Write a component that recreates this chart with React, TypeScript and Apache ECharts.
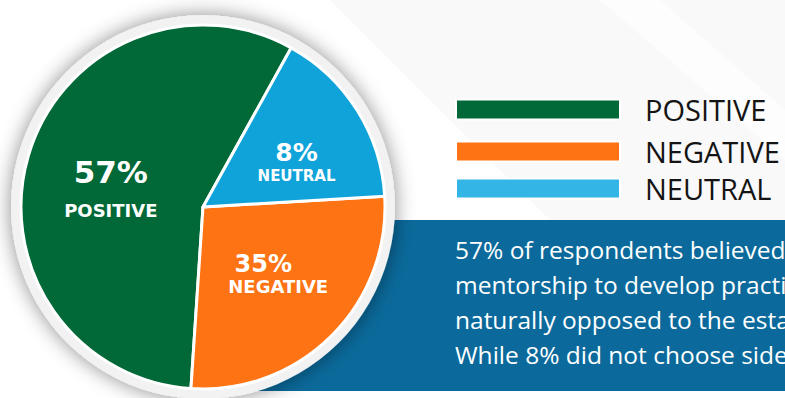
import React, { useEffect, useRef } from "react";
import * as echarts from "echarts";

const categories = ["POSITIVE", "NEGATIVE", "NEUTRAL"];
const sliceValues = [57, 27, 16];
const sliceLabels = ["57%", "35%", "8%"];
const pieColors = ["#016837", "#fe7313", "#0fa3d9"];
const legendColors = ["#016837", "#fe7313", "#33b5e5"];
const paragraphLines = [
  "57% of respondents believed",
  "mentorship to develop practical",
  "naturally opposed to the estab",
  "While 8% did not choose sides.",
];

export default function App() {
  const ref = useRef<HTMLDivElement>(null);
  useEffect(() => {
    if (!ref.current) return;
    const chart = echarts.init(ref.current, null, { renderer: "svg" });
    const center = [203, 207];
    const legendTops = [95, 137, 174];
    const labelShift = [
      { dx: -2, dy: 9 },
      { dx: 9, dy: -1 },
      { dx: 14, dy: 5 },
    ];
    const option: any = {
      animation: false,
      backgroundColor: "#ffffff",
      legend: categories.map((c, i) => ({
        show: true,
        left: 455,
        top: legendTops[i],
        padding: 0,
        icon: "rect",
        itemWidth: 164,
        itemHeight: 20,
        selectedMode: false,
        data: [{ name: c, itemStyle: { color: legendColors[i] } }],
        textStyle: {
          fontFamily: "Open Sans",
          fontSize: 29,
          lineHeight: 20,
          color: "#141414",
          padding: [0, 0, 0, 20],
        },
      })),
      graphic: [
        {
          type: "polygon",
          z: -10,
          shape: { points: [[330, 0], [785, 0], [785, 230], [560, 230]] },
          style: { fill: "#f9f9f9" },
          silent: true,
        },
        {
          type: "polygon",
          z: -9,
          shape: { points: [[600, 0], [660, 0], [785, 110], [785, 160]] },
          style: { fill: "#fdfdfd" },
          silent: true,
        },
        {
          type: "rect",
          z: -5,
          shape: { x: 250, y: 220, width: 535, height: 171 },
          style: { fill: "#0b6a9b" },
          silent: true,
        },
        {
          type: "text",
          z: 10,
          x: 455,
          y: 232,
          style: {
            text: paragraphLines.join("\n"),
            fill: "#ffffff",
            fontFamily: "Open Sans",
            fontSize: 24.5,
            lineHeight: 35,
            verticalAlign: "top",
            align: "left",
          },
          silent: true,
        },
      ],
      series: [
        {
          type: "pie",
          name: "ring",
          center,
          radius: [0, 192],
          silent: true,
          z: 1,
          label: { show: false },
          labelLine: { show: false },
          itemStyle: {
            color: "#f2f2f2",
            shadowBlur: 20,
            shadowColor: "rgba(0,0,0,0.45)",
          },
          data: [{ value: 1, name: "ring" }],
        },
        {
          type: "pie",
          name: "responses",
          center,
          radius: [0, 182],
          clockwise: false,
          startAngle: 61,
          z: 3,
          silent: true,
          itemStyle: { borderColor: "#ffffff", borderWidth: 3 },
          data: categories.map((c, i) => ({
            name: c,
            value: sliceValues[i],
            itemStyle: { color: pieColors[i] },
          })),
          labelLine: { show: false },
          label: {
            show: true,
            position: "inside",
            color: "#ffffff",
            fontFamily: "DejaVu Sans",
            fontWeight: "bold",
            align: "center",
            formatter: (p: any) =>
              `{v${p.dataIndex}|${sliceLabels[p.dataIndex]}}\n{n${p.dataIndex}|${p.name}}`,
            rich: {
              v0: { fontSize: 31, lineHeight: 42, fontWeight: "bold", color: "#fff", fontFamily: "DejaVu Sans" },
              n0: { fontSize: 18, lineHeight: 34, fontWeight: "bold", color: "#fff", fontFamily: "DejaVu Sans" },
              v1: { fontSize: 24, lineHeight: 27, fontWeight: "bold", color: "#fff", fontFamily: "DejaVu Sans", padding: [0, 30, 0, 0] },
              n1: { fontSize: 18, lineHeight: 18, fontWeight: "bold", color: "#fff", fontFamily: "DejaVu Sans" },
              v2: { fontSize: 25, lineHeight: 28, fontWeight: "bold", color: "#fff", fontFamily: "DejaVu Sans" },
              n2: { fontSize: 15, lineHeight: 19, fontWeight: "bold", color: "#fff", fontFamily: "DejaVu Sans" },
            },
          },
          labelLayout: (params: any) => labelShift[params.dataIndex],
        },
      ],
    };
    chart.setOption(option);
    return () => chart.dispose();
  }, []);
  return (
    <div
      ref={ref}
      style={{ position: "fixed", left: 0, top: 0, width: 785, height: 398 }}
    />
  );
}
